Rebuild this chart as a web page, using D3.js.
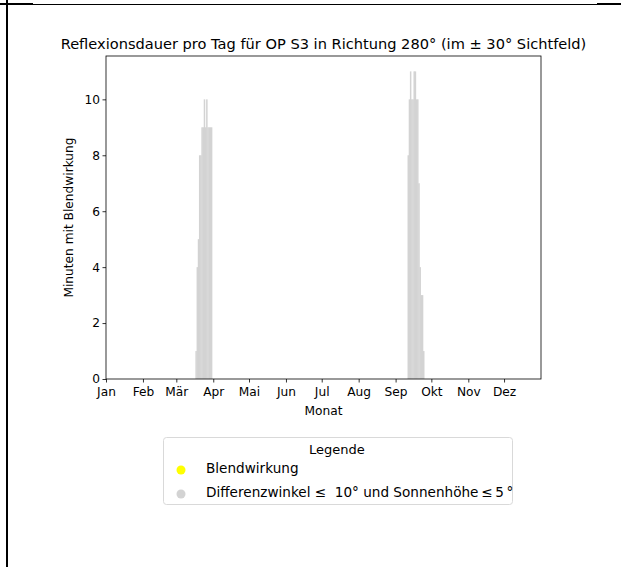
<!DOCTYPE html>
<html>
<head>
<meta charset="utf-8">
<script src="https://cdn.jsdelivr.net/npm/d3@7"></script>
<style>
  body { margin: 0; background: #fff; }
  svg { display: block; font-family: "DejaVu Sans", sans-serif; }
  text { white-space: pre; }
</style>
</head>
<body>
<div id="chart"></div>
<script>
// month tick labels (German)
const monthLabels = ["Jan", "Feb", "Mär", "Apr", "Mai", "Jun",
    "Jul", "Aug", "Sep", "Okt", "Nov", "Dez"];

// minutes of glare per day, spring window
const springDays = ["2023-03-17", "2023-03-18", "2023-03-19", "2023-03-20", "2023-03-21",
    "2023-03-22", "2023-03-23", "2023-03-24", "2023-03-25", "2023-03-26", "2023-03-27",
    "2023-03-28", "2023-03-29", "2023-03-30"];
const springMinutes = [1, 4, 5, 8, 8, 9, 9, 10, 9, 10, 9, 9, 9, 9];

// autumn window
const autumnDays = ["2023-09-11", "2023-09-12", "2023-09-13", "2023-09-14", "2023-09-15",
    "2023-09-16", "2023-09-17", "2023-09-18", "2023-09-19", "2023-09-20", "2023-09-21",
    "2023-09-22", "2023-09-23", "2023-09-24"];
const autumnMinutes = [8, 10, 11, 10, 10, 11, 11, 10, 10, 7, 4, 3, 3, 1];

const yTicks = [0, 2, 4, 6, 8, 10];

const legendItems = [
    { label: "Blendwirkung", color: "yellow" },
    { label: "Differenzwinkel \u2264  10\u00b0 und Sonnenh\u00f6he\u2009\u2264\u20095\u2009\u00b0", color: "lightgray" }
];

const W = 621, H = 567;
const margin = { left: 106, right: 80, top: 56, bottom: 188 };

const parse = d3.timeParse("%Y-%m-%d");
const bars = springDays.map((d, i) => ({ date: parse(d), v: springMinutes[i] }))
    .concat(autumnDays.map((d, i) => ({ date: parse(d), v: autumnMinutes[i] })));

const svg = d3.select("#chart").append("svg")
    .attr("width", W)
    .attr("height", H);

// page frame lines
svg.append("line").attr("x1", 0).attr("x2", W).attr("y1", 4.5).attr("y2", 4.5)
    .attr("stroke", "#000").attr("stroke-width", 1);
svg.append("line").attr("x1", 0).attr("x2", 33).attr("y1", 4).attr("y2", 4)
    .attr("stroke", "#000").attr("stroke-width", 2);
svg.append("line").attr("x1", 597).attr("x2", W).attr("y1", 4).attr("y2", 4)
    .attr("stroke", "#000").attr("stroke-width", 2);
svg.append("line").attr("x1", 7).attr("x2", 7).attr("y1", 0).attr("y2", H)
    .attr("stroke", "#000").attr("stroke-width", 2);

const x = d3.scaleTime()
    .domain([new Date(2023, 0, 1), new Date(2024, 0, 1)])
    .range([margin.left, W - margin.right]);

const y = d3.scaleLinear()
    .domain([0, 11.55])
    .range([H - margin.bottom, margin.top]);

// bars (slight overlap so neighbouring days do not show seams)
svg.append("g").selectAll("rect")
    .data(bars)
    .join("rect")
    .attr("x", d => x(d.date))
    .attr("width", d => x(d3.timeDay.offset(d.date, 1)) - x(d.date) + 0.3)
    .attr("y", d => y(d.v))
    .attr("height", d => y(0) - y(d.v))
    .attr("fill", "lightgray");

// axes
const xAxis = d3.axisBottom(x)
    .tickValues(d3.timeMonth.range(new Date(2023, 0, 1), new Date(2024, 0, 1)))
    .tickFormat(d => monthLabels[d.getMonth()])
    .tickSizeOuter(0)
    .tickSize(3.5);

const yAxis = d3.axisLeft(y)
    .tickValues(yTicks)
    .tickSizeOuter(0)
    .tickSize(3.5);

const gx = svg.append("g")
    .attr("transform", `translate(0,${y(0)})`)
    .call(xAxis);
const gy = svg.append("g")
    .attr("transform", `translate(${margin.left},0)`)
    .call(yAxis);

[gx, gy].forEach(g => {
    g.select(".domain").remove();
    g.selectAll("text").attr("font-size", 12.2).attr("fill", "#000")
        .attr("font-family", "DejaVu Sans");
    g.selectAll("line").attr("stroke", "#000").attr("stroke-width", 0.8);
});
gx.selectAll("text").attr("dy", "0.85em").attr("y", 6.5);
gy.selectAll("text").attr("x", -6);

// spines
svg.append("rect")
    .attr("x", margin.left).attr("y", margin.top)
    .attr("width", W - margin.right - margin.left)
    .attr("height", H - margin.bottom - margin.top)
    .attr("fill", "none").attr("stroke", "#000").attr("stroke-width", 0.8);

const cx = (margin.left + W - margin.right) / 2;

// title
svg.append("text")
    .attr("x", cx).attr("y", 49)
    .attr("text-anchor", "middle")
    .attr("font-size", 14.6)
    .text("Reflexionsdauer pro Tag für OP S3 in Richtung 280° (im ± 30° Sichtfeld)");

// axis labels
svg.append("text")
    .attr("x", cx).attr("y", 415)
    .attr("text-anchor", "middle")
    .attr("font-size", 12.2)
    .text("Monat");

svg.append("text")
    .attr("transform", `translate(73,${(margin.top + H - margin.bottom) / 2}) rotate(-90)`)
    .attr("text-anchor", "middle")
    .attr("font-size", 12.2)
    .text("Minuten mit Blendwirkung");

// legend
const legend = svg.append("g");
legend.append("rect")
    .attr("x", 163.5).attr("y", 437.5)
    .attr("width", 349).attr("height", 67)
    .attr("rx", 3)
    .attr("fill", "#fff")
    .attr("stroke", "#d9d9d9");
legend.append("text")
    .attr("x", 337).attr("y", 454)
    .attr("text-anchor", "middle")
    .attr("font-size", 13)
    .text("Legende");

legend.selectAll("g.item")
    .data(legendItems)
    .join("g")
    .attr("class", "item")
    .attr("transform", (d, i) => `translate(0,${469 + i * 24})`)
    .each(function(d) {
        const g = d3.select(this);
        g.append("circle").attr("cx", 181).attr("cy", 1).attr("r", 4.5).attr("fill", d.color);
        g.append("text").attr("x", 206).attr("y", 4)
            .attr("font-size", 13.6)
            .text(d.label);
    });
</script>
</body>
</html>
